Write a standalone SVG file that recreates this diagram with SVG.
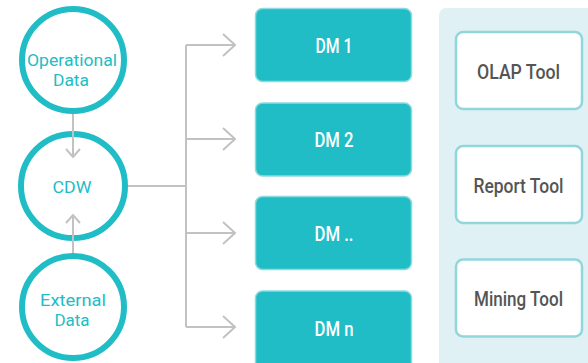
<svg xmlns="http://www.w3.org/2000/svg" width="588" height="363" viewBox="0 0 588 363">
<defs>
<style>
.circ{fill:#fff;stroke:#21bdc6;stroke-width:6}
.ctext{font-family:Roboto,"Liberation Sans",sans-serif;font-size:17px;font-weight:400;fill:#21bdc6;text-anchor:middle}
.dm{fill:#21bdc6;stroke:#8edade;stroke-width:1.5}
.dtext{font-family:Roboto,"Liberation Sans",sans-serif;font-size:21px;font-weight:500;fill:#fff;text-anchor:middle}
.tool{fill:#fff;stroke:#90d6db;stroke-width:2.5}
.ttext{font-family:Roboto,"Liberation Sans",sans-serif;font-size:21px;font-weight:500;fill:#555;text-anchor:middle}
.conn{fill:none;stroke:#c2c2c2;stroke-width:2}
</style>
<marker id="arr" viewBox="0 0 14 24" refX="13" refY="12" markerWidth="14" markerHeight="24" markerUnits="userSpaceOnUse" orient="auto">
<path d="M1,1 L13,12 L1,23" fill="none" stroke="#c2c2c2" stroke-width="2"/>
</marker>
<marker id="arrs" viewBox="0 0 10 16" refX="9" refY="8" markerWidth="10" markerHeight="16" markerUnits="userSpaceOnUse" orient="auto">
<path d="M1,1 L9,8 L1,15" fill="none" stroke="#c2c2c2" stroke-width="2"/>
</marker>
</defs>
<rect id="panel" x="439" y="8" width="160" height="370" rx="7" fill="#dff1f4"/>
<g id="operational">
<circle class="circ" cx="73" cy="60" r="51"/>
<text class="ctext" x="72" y="66" textLength="90" lengthAdjust="spacingAndGlyphs">Operational</text>
<text class="ctext" x="71" y="86" textLength="36" lengthAdjust="spacingAndGlyphs">Data</text>
</g>
<g id="cdw">
<circle class="circ" cx="73" cy="186" r="52"/>
<text class="ctext" x="72" y="193" textLength="39" lengthAdjust="spacingAndGlyphs">CDW</text>
</g>
<g id="external">
<circle class="circ" cx="73" cy="307" r="51"/>
<text class="ctext" x="73" y="306" textLength="66" lengthAdjust="spacingAndGlyphs">External</text>
<text class="ctext" x="72" y="326" textLength="35" lengthAdjust="spacingAndGlyphs">Data</text>
</g>
<g id="dm1">
<rect class="dm" x="255.5" y="8.5" width="156" height="73" rx="7"/>
<text class="dtext" x="334" y="53" textLength="37" lengthAdjust="spacingAndGlyphs">DM 1</text>
</g>
<g id="dm2">
<rect class="dm" x="255.5" y="103" width="156" height="73" rx="7"/>
<text class="dtext" x="334" y="147" textLength="39" lengthAdjust="spacingAndGlyphs">DM 2</text>
</g>
<g id="dm3">
<rect class="dm" x="255.5" y="196.5" width="156" height="73" rx="7"/>
<text class="dtext" x="334" y="241" textLength="39" lengthAdjust="spacingAndGlyphs">DM ..</text>
</g>
<g id="dmn">
<rect class="dm" x="255.5" y="291" width="156" height="80" rx="7"/>
<text class="dtext" x="334" y="336" textLength="39" lengthAdjust="spacingAndGlyphs">DM n</text>
</g>
<g id="olap">
<rect class="tool" x="456" y="32" width="126" height="77" rx="7"/>
<text class="ttext" x="518.5" y="79" textLength="83" lengthAdjust="spacingAndGlyphs">OLAP Tool</text>
</g>
<g id="report">
<rect class="tool" x="456" y="146" width="126" height="77" rx="7"/>
<text class="ttext" x="518.5" y="193" textLength="90" lengthAdjust="spacingAndGlyphs">Report Tool</text>
</g>
<g id="mining">
<rect class="tool" x="456" y="259.5" width="126" height="77" rx="7"/>
<text class="ttext" x="518.5" y="306" textLength="89" lengthAdjust="spacingAndGlyphs">Mining Tool</text>
</g>
<g id="connectors">
<path class="conn" d="M73,114 V157" marker-end="url(#arrs)"/>
<path class="conn" d="M73,253 V215" marker-end="url(#arrs)"/>
<path class="conn" d="M128,186 H186"/>
<path class="conn" d="M186,45 V327"/>
<path class="conn" d="M186,45 H235" marker-end="url(#arr)"/>
<path class="conn" d="M186,139 H235" marker-end="url(#arr)"/>
<path class="conn" d="M186,233 H235" marker-end="url(#arr)"/>
<path class="conn" d="M186,327 H235" marker-end="url(#arr)"/>
</g>
</svg>
